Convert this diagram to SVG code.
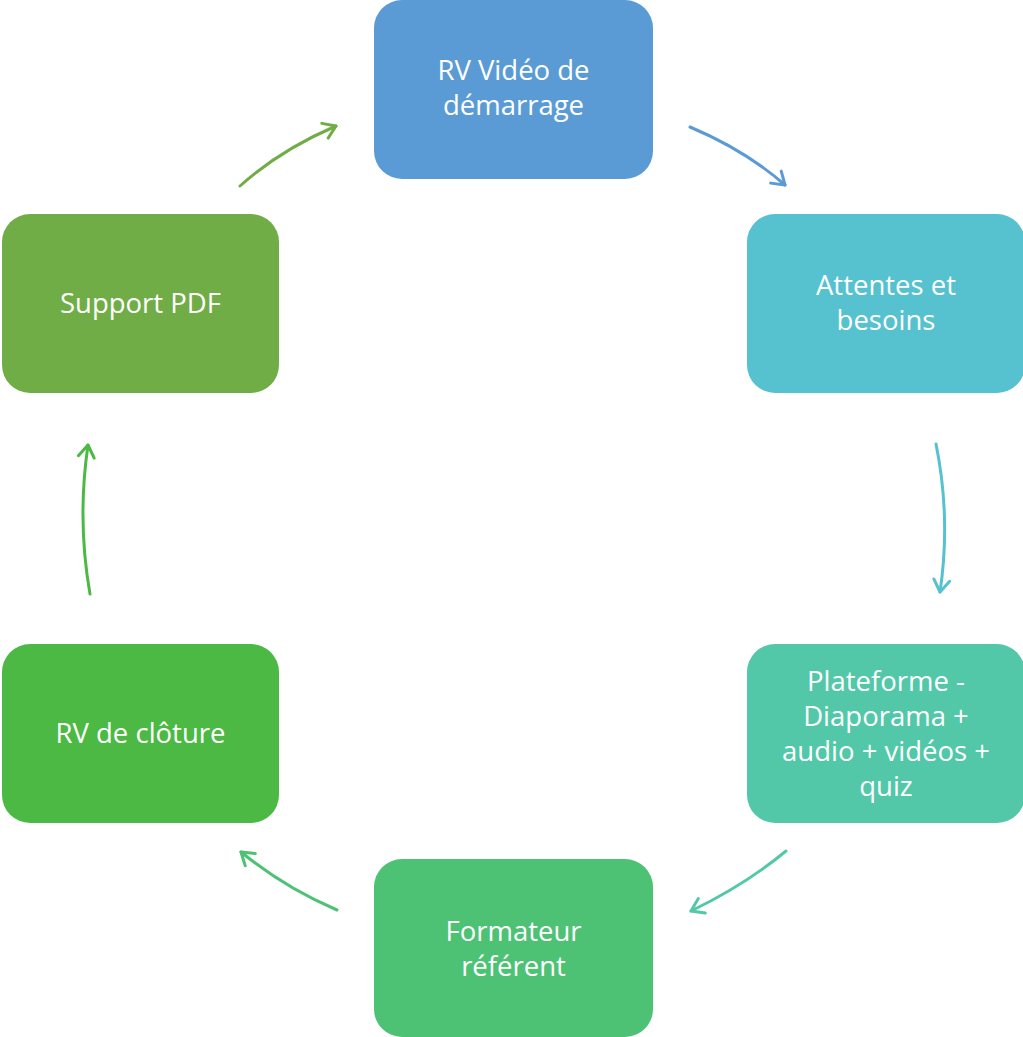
<svg xmlns="http://www.w3.org/2000/svg" width="1023" height="1037" viewBox="0 0 1023 1037">
<style>
.box{stroke:none}
.t{font-family:"Open Sans","Liberation Sans",sans-serif;font-size:27.5px;fill:#fff;text-anchor:middle}
.c{fill:none;stroke-width:3;stroke-linecap:round}
</style>
<defs>
<marker id="m1" viewBox="0 0 20 20" refX="16" refY="10" markerWidth="20" markerHeight="20" markerUnits="userSpaceOnUse" orient="auto"><path d="M4,2 L16,10 L4,18" fill="none" stroke="#5B9BD5" stroke-width="3" stroke-linecap="round" stroke-linejoin="round"/></marker>
<marker id="m2" viewBox="0 0 20 20" refX="16" refY="10" markerWidth="20" markerHeight="20" markerUnits="userSpaceOnUse" orient="auto"><path d="M4,2 L16,10 L4,18" fill="none" stroke="#56C1CF" stroke-width="3" stroke-linecap="round" stroke-linejoin="round"/></marker>
<marker id="m3" viewBox="0 0 20 20" refX="16" refY="10" markerWidth="20" markerHeight="20" markerUnits="userSpaceOnUse" orient="auto"><path d="M4,2 L16,10 L4,18" fill="none" stroke="#52C8A8" stroke-width="3" stroke-linecap="round" stroke-linejoin="round"/></marker>
<marker id="m4" viewBox="0 0 20 20" refX="16" refY="10" markerWidth="20" markerHeight="20" markerUnits="userSpaceOnUse" orient="auto"><path d="M4,2 L16,10 L4,18" fill="none" stroke="#4DC274" stroke-width="3" stroke-linecap="round" stroke-linejoin="round"/></marker>
<marker id="m5" viewBox="0 0 20 20" refX="16" refY="10" markerWidth="20" markerHeight="20" markerUnits="userSpaceOnUse" orient="auto"><path d="M4,2 L16,10 L4,18" fill="none" stroke="#4BB943" stroke-width="3" stroke-linecap="round" stroke-linejoin="round"/></marker>
<marker id="m6" viewBox="0 0 20 20" refX="16" refY="10" markerWidth="20" markerHeight="20" markerUnits="userSpaceOnUse" orient="auto"><path d="M4,2 L16,10 L4,18" fill="none" stroke="#71AD47" stroke-width="3" stroke-linecap="round" stroke-linejoin="round"/></marker>
</defs>
<g id="connectors">
<path class="c" stroke="#5B9BD5" d="M690,127 Q745,150 785,185" marker-end="url(#m1)"/>
<path class="c" stroke="#56C1CF" d="M936,444 Q951,518 940,592" marker-end="url(#m2)"/>
<path class="c" stroke="#52C8A8" d="M786,851 Q745,885 691,911" marker-end="url(#m3)"/>
<path class="c" stroke="#4DC274" d="M337,910 Q285,888 241,852" marker-end="url(#m4)"/>
<path class="c" stroke="#4BB943" d="M90,594 Q77,520 88,445" marker-end="url(#m5)"/>
<path class="c" stroke="#71AD47" d="M240,186 Q280,150 336,126" marker-end="url(#m6)"/>
</g>
<g id="n1"><rect class="box" x="374" y="0" width="279" height="179" rx="28" fill="#5B9BD5"/><text class="t" x="513.5" y="80">RV Vidéo de</text><text class="t" x="513.5" y="115">démarrage</text></g>
<g id="n2"><rect class="box" x="747" y="214" width="278" height="179" rx="28" fill="#56C1CF"/><text class="t" x="886" y="295">Attentes et</text><text class="t" x="886" y="330">besoins</text></g>
<g id="n3"><rect class="box" x="747" y="644" width="278" height="179" rx="28" fill="#52C8A8"/><text class="t" x="886" y="691">Plateforme -</text><text class="t" x="886" y="726">Diaporama +</text><text class="t" x="886" y="761">audio + vidéos +</text><text class="t" x="886" y="796">quiz</text></g>
<g id="n4"><rect class="box" x="374" y="859" width="279" height="178" rx="28" fill="#4DC274"/><text class="t" x="513.5" y="941">Formateur</text><text class="t" x="513.5" y="976">référent</text></g>
<g id="n5"><rect class="box" x="2" y="644" width="277" height="179" rx="28" fill="#4BB943"/><text class="t" x="140.5" y="743">RV de clôture</text></g>
<g id="n6"><rect class="box" x="2" y="214" width="277" height="179" rx="28" fill="#71AD47"/><text class="t" x="140.5" y="313">Support PDF</text></g>
</svg>
